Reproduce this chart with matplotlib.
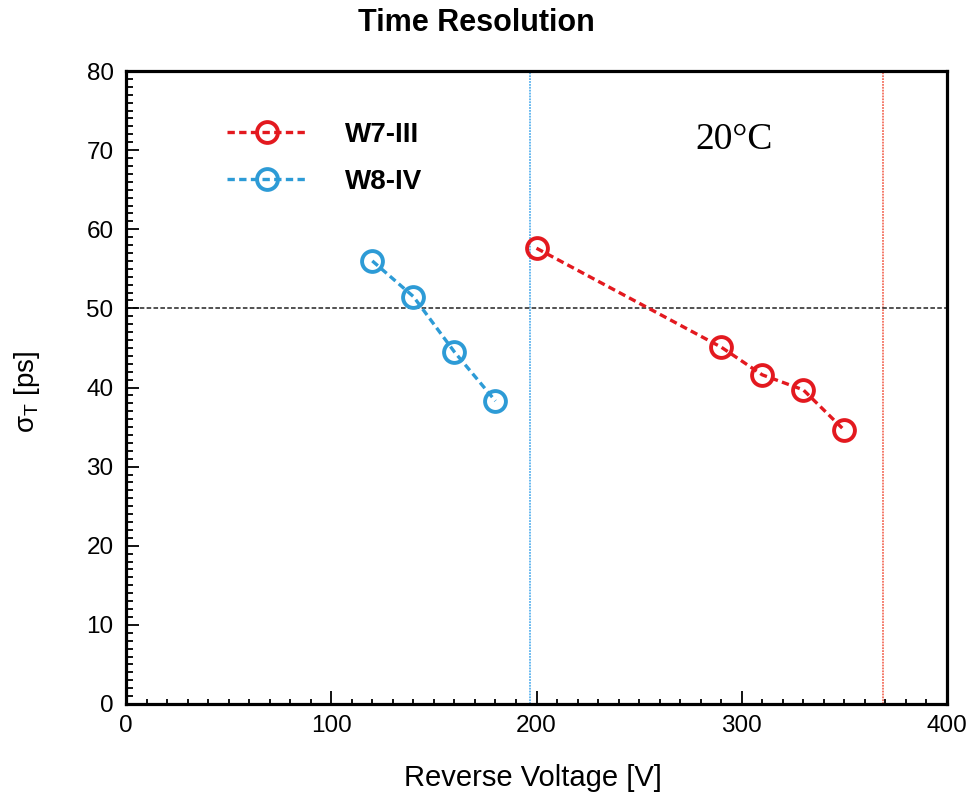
import matplotlib
matplotlib.use("Agg")
import matplotlib.pyplot as plt
from matplotlib.ticker import MultipleLocator
from matplotlib.lines import Line2D

# ---- data ----
w7_voltage = [200, 290, 310, 330, 350]
w7_sigma = [57.6, 45.1, 41.6, 39.7, 34.6]
w8_voltage = [120, 140, 160, 180]
w8_sigma = [56.0, 51.5, 44.5, 38.3]
w8_breakdown = 197
w7_breakdown = 369
target_sigma = 50
series_labels = ["W7-III", "W8-IV"]
x_ticks = [0, 100, 200, 300, 400]
y_ticks = [0, 10, 20, 30, 40, 50, 60, 70, 80]

RED = "#e3191f"
BLUE = "#2d9bd6"

plt.rcParams["font.family"] = ["Liberation Sans", "DejaVu Sans"]
plt.rcParams["mathtext.fontset"] = "custom"
plt.rcParams["mathtext.rm"] = "Liberation Sans"
plt.rcParams["mathtext.it"] = "Liberation Sans:italic"

W, H = 971, 794
fig = plt.figure(figsize=(W / 100, H / 100), dpi=100)
L, R, B, T = 126, 947, 704, 71
ax = fig.add_axes([L / W, 1 - B / H, (R - L) / W, (B - T) / H])

ax.set_xlim(0, 400)
ax.set_ylim(0, 80)

ax.axvline(w8_breakdown, color="#5ab2ee", lw=1.3, ls=(0, (1, 0.6)), zorder=1)
ax.axvline(w7_breakdown, color="#f3705e", lw=1.3, ls=(0, (1, 0.6)), zorder=1)
ax.axhline(target_sigma, color="#222222", lw=1.1, ls=(0, (3, 1.5)), zorder=1)

common = dict(lw=2.4, ls=(0, (2.2, 1.3)), marker="o", ms=15, mew=2.8,
              mfc="none", zorder=3)
ax.plot(w8_voltage, w8_sigma, color=BLUE, mec=BLUE, **common)
ax.plot(w7_voltage, w7_sigma, color=RED, mec=RED, **common)

ax.set_xticks(x_ticks)
ax.set_yticks(y_ticks)
ax.xaxis.set_minor_locator(MultipleLocator(10))
ax.yaxis.set_minor_locator(MultipleLocator(1))
ax.tick_params(axis="both", which="both", direction="in", top=False, right=False,
               labelsize=17.5, width=1.3, colors="black")
ax.tick_params(axis="x", which="major", length=9.5, pad=8)
ax.tick_params(axis="x", which="minor", length=3.5)
ax.tick_params(axis="y", which="major", length=9.5, pad=9)
ax.tick_params(axis="y", which="minor", length=5)
for s in ax.spines.values():
    s.set_linewidth(2.3)

ax.set_xlabel("Reverse Voltage [V]", fontsize=21, va="center")
ax.xaxis.set_label_coords((533 - L) / (R - L), (B - 778) / (B - T))
ax.set_ylabel(r"σ$_\mathrm{T}$ [ps]", fontsize=20, va="center")
ax.yaxis.set_label_coords((27 - L) / (R - L), (B - 392) / (B - T))

fig.text(476 / W, 1 - 23 / H, "Time Resolution", ha="center", va="center",
         fontsize=22, fontweight="bold")

ax.text((734 - L) / (R - L), (B - 140) / (B - T), "20°C", transform=ax.transAxes,
        ha="center", va="center", fontsize=27, family=["Liberation Serif", "DejaVu Serif"])

handles = [Line2D([], [], color=RED, mec=RED, **common),
           Line2D([], [], color=BLUE, mec=BLUE, **common)]
leg = ax.legend(handles, series_labels, loc="upper left",
                bbox_to_anchor=(227 / W, 1 - 122 / H), bbox_transform=fig.transFigure,
                frameon=False, borderpad=0, borderaxespad=0, handlelength=2.9,
                handletextpad=1.35, labelspacing=0.75,
                prop={"family": "Liberation Sans", "weight": "bold", "size": 20})

fig.savefig("out.png", dpi=100)
